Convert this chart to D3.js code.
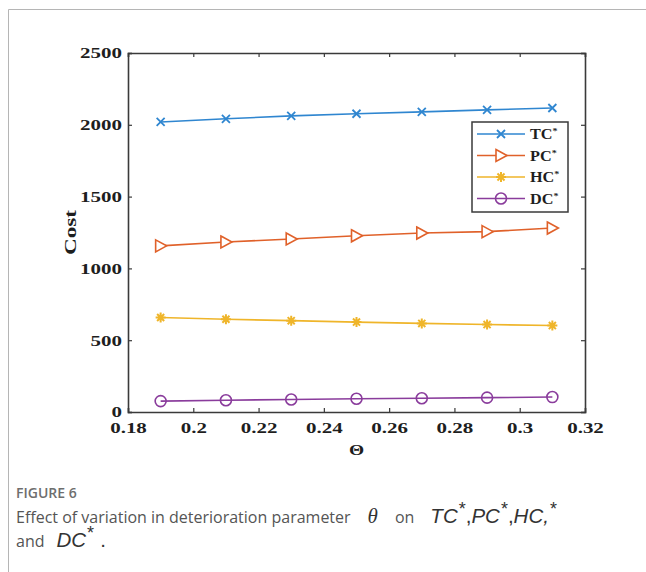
<!DOCTYPE html>
<html>
<head>
<meta charset="utf-8">
<script src="https://cdn.jsdelivr.net/npm/d3@7"></script>
<style>
  body { margin: 0; background: #fff; }
  svg { display: block; }
</style>
</head>
<body>
<svg id="chart" width="646" height="572"></svg>
<script>
// data
var theta = [0.19, 0.21, 0.23, 0.25, 0.27, 0.29, 0.31];
var tc = [2020, 2042, 2062, 2077, 2090, 2104, 2117];
var pc = [1157, 1184, 1205, 1227, 1246, 1256, 1281];
var hc = [658, 646, 636, 626, 617, 609, 602];
var dc = [76, 82, 87, 92, 96, 100, 104];
var seriesNames = ["TC", "PC", "HC", "DC"];
var xTicks = [0.18, 0.2, 0.22, 0.24, 0.26, 0.28, 0.3, 0.32];
var yTicks = [0, 500, 1000, 1500, 2000, 2500];

var colors = ["#2f86d0", "#e0612a", "#efb52a", "#8a3c9c"];
var markers = ["x", "tri", "star", "circle"];
var values = [tc, pc, hc, dc];

var svg = d3.select("#chart");
var serif = "'Liberation Serif', 'Times New Roman', serif";

// outer frame of the figure panel
svg.append("path")
  .attr("d", "M8.5,572 L8.5,9.5 L646,9.5")
  .attr("fill", "none").attr("stroke", "#b5b5b5").attr("stroke-width", 1);

var mLeft = 128, mRight = 585, mTop = 53, mBottom = 412;
var x = d3.scaleLinear().domain([0.18, 0.32]).range([mLeft, mRight]);
var y = d3.scaleLinear().domain([0, 2500]).range([mBottom, mTop]);

var axisColor = "#3a3a3a";

// bottom and left axes, ticks pointing inward
var gx = svg.append("g").attr("transform", "translate(0," + mBottom + ")")
  .call(d3.axisBottom(x).tickValues(xTicks).tickSize(-4).tickPadding(10)
    .tickFormat(function(d){ return String(+d.toFixed(2)); }));
var gy = svg.append("g").attr("transform", "translate(" + mLeft + ",0)")
  .call(d3.axisLeft(y).tickValues(yTicks).tickSize(-4).tickPadding(4.3).tickFormat(d3.format("d")));
// top and right (box)
var gt = svg.append("g").attr("transform", "translate(0," + mTop + ")")
  .call(d3.axisTop(x).tickValues(xTicks).tickSize(-4).tickFormat(""));
var gr = svg.append("g").attr("transform", "translate(" + mRight + ",0)")
  .call(d3.axisRight(y).tickValues(yTicks).tickSize(-4).tickFormat(""));

[gx, gy, gt, gr].forEach(function(g){
  g.select(".domain").attr("stroke", axisColor).attr("stroke-width", 1.6);
  g.selectAll(".tick line").attr("stroke", axisColor).attr("stroke-width", 1.2);
  g.selectAll(".tick text").attr("fill", "#1e1e1e").attr("transform", "scale(1.4,1)")
    .style("font-family", serif).style("font-weight", "bold").style("font-size", "15px");
});

// axis titles
svg.append("text").attr("transform", "translate(" + x(0.25) + ",455) scale(1.3,1)")
  .attr("text-anchor", "middle").attr("fill", "#1e1e1e")
  .style("font-family", serif).style("font-weight", "bold").style("font-size", "15px")
  .text("\u0398");
svg.append("text")
  .attr("transform", "translate(76," + y(1250) + ") rotate(-90) scale(1.45,1)")
  .attr("text-anchor", "middle").attr("fill", "#1e1e1e")
  .style("font-family", serif).style("font-weight", "bold").style("font-size", "16px")
  .text("Cost");

function drawMarker(g, type, color, cx, cy) {
  var r = 5;
  if (type === "x") {
    g.append("path").attr("d", "M" + (cx - 4) + "," + (cy - 4) + "L" + (cx + 4) + "," + (cy + 4) +
      "M" + (cx - 4) + "," + (cy + 4) + "L" + (cx + 4) + "," + (cy - 4))
      .attr("stroke", color).attr("stroke-width", 1.8).attr("fill", "none");
  } else if (type === "tri") {
    g.append("path").attr("d", "M" + (cx - 5) + "," + (cy - 6) + "L" + (cx + 6) + "," + cy +
      "L" + (cx - 5) + "," + (cy + 6) + "Z")
      .attr("stroke", color).attr("stroke-width", 1.6).attr("fill", "#fff");
  } else if (type === "star") {
    var d = "";
    for (var k = 0; k < 4; k++) {
      var a = k * Math.PI / 4;
      d += "M" + (cx - r * Math.cos(a)) + "," + (cy - r * Math.sin(a)) +
        "L" + (cx + r * Math.cos(a)) + "," + (cy + r * Math.sin(a));
    }
    g.append("path").attr("d", d).attr("stroke", color).attr("stroke-width", 2).attr("fill", "none");
  } else {
    g.append("circle").attr("cx", cx).attr("cy", cy).attr("r", 5.5)
      .attr("stroke", color).attr("stroke-width", 1.6).attr("fill", "none");
  }
}

var line = d3.line().x(function(d){ return x(d[0]); }).y(function(d){ return y(d[1]); });

values.forEach(function(vals, i) {
  var pts = theta.map(function(t, j){ return [t, vals[j]]; });
  var g = svg.append("g");
  g.append("path").datum(pts).attr("d", line)
    .attr("fill", "none").attr("stroke", colors[i]).attr("stroke-width", 1.6);
  pts.forEach(function(p){ drawMarker(g, markers[i], colors[i], x(p[0]), y(p[1])); });
});

// legend
var lg = svg.append("g");
lg.append("rect").attr("x", 472).attr("y", 122).attr("width", 96).attr("height", 90)
  .attr("fill", "#fff").attr("stroke", "#3a3a3a").attr("stroke-width", 1.5);
seriesNames.forEach(function(name, i) {
  var ly = 134 + i * 21.5;
  lg.append("line").attr("x1", 477).attr("x2", 525).attr("y1", ly).attr("y2", ly)
    .attr("stroke", colors[i]).attr("stroke-width", 1.6);
  drawMarker(lg, markers[i], colors[i], 501, ly);
  var t = lg.append("text").attr("transform", "translate(530," + (ly + 5) + ") scale(1.12,1)")
    .attr("fill", "#1e1e1e")
    .style("font-family", serif).style("font-weight", "bold").style("font-size", "14.5px");
  t.append("tspan").text(name);
  t.append("tspan").attr("dy", -5).style("font-size", "9px").text("*");
});

// caption
var sans = "'Open Sans', 'Noto Sans', sans-serif";
var mathSans = "'Liberation Sans', Arial, sans-serif";
svg.append("text").attr("x", 16).attr("y", 498).attr("fill", "#6e6e6e")
  .style("font-family", sans).style("font-size", "14px").style("font-weight", "600")
  .text("FIGURE 6");

var cap = svg.append("text").attr("x", 16).attr("y", 523).attr("fill", "#555")
  .style("font-family", sans).style("font-size", "16px");
cap.append("tspan").text("Effect of variation in deterioration parameter");
cap.append("tspan").attr("dx", 17).style("font-family", serif).style("font-style", "italic")
  .style("font-size", "21px").attr("fill", "#333").text("\u03b8");
cap.append("tspan").attr("dx", 17).text("on");
function mathPart(parent, label, dx) {
  parent.append("tspan").attr("dx", dx || 0).style("font-family", mathSans).style("font-style", "italic")
    .style("font-size", "20.5px").attr("fill", "#333").text(label);
}
function star(parent) {
  parent.append("tspan").attr("dx", 1).attr("dy", -8).style("font-family", mathSans)
    .style("font-size", "18px").attr("fill", "#333").text("*");
}
function sep(parent, s, dx) {
  parent.append("tspan").attr("dx", dx || 0).attr("dy", 8).style("font-family", mathSans)
    .style("font-size", "20.5px").attr("fill", "#333").text(s);
}
mathPart(cap, "TC", 16); star(cap); sep(cap, ",");
mathPart(cap, "PC"); star(cap); sep(cap, ",");
mathPart(cap, "HC,"); star(cap);

var cap2 = svg.append("text").attr("x", 16).attr("y", 547).attr("fill", "#555")
  .style("font-family", sans).style("font-size", "16px");
cap2.append("tspan").text("and");
mathPart(cap2, "DC", 12); star(cap2); sep(cap2, ".", 6);
</script>
</body>
</html>
